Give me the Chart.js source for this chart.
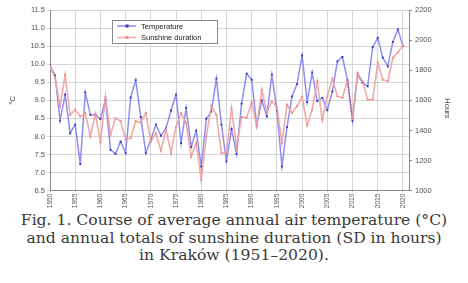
<!DOCTYPE html>
<html>
<head>
<meta charset="utf-8">
<script src="https://cdn.jsdelivr.net/npm/chart.js@4/dist/chart.umd.min.js"></script>
<style>
  body { margin: 0; background: #fff; width: 468px; height: 283px; overflow: hidden; }
  #wrap { position: relative; width: 468px; height: 210px; }
  #caption {
    font-family: "DejaVu Serif", serif;
    font-size: 15.6px;
    line-height: 17.5px;
    color: #3a3a3a;
    text-align: center;
    margin-top: 2px;
    white-space: nowrap;
  }
</style>
</head>
<body>
<div id="wrap"><canvas id="chart"></canvas></div>
<div id="caption">Fig. 1. Course of average annual air temperature (°C)<br>and annual totals of sunshine duration (SD in hours)<br>in Kraków (1951–2020).</div>
<script>
// lata 1950..2020 (punkty na osi X)
const firstYear = 1950;

// średnia roczna temperatura [°C]
const temperature = [
  9.97, 9.69, 8.44, 9.16, 8.09, 8.33, 7.24, 9.22, 8.60, 8.60,
  8.48, 9.02, 7.63, 7.52, 7.86, 7.54, 9.08, 9.56, 8.54, 7.54,
  7.91, 8.33, 8.02, 8.23, 8.72, 9.16, 7.82, 8.79, 7.71, 8.16,
  7.17, 8.49, 8.69, 9.60, 8.33, 7.31, 8.20, 7.52, 8.91, 9.74,
  9.57, 8.30, 9.00, 8.56, 9.71, 8.72, 7.17, 8.26, 9.11, 9.45,
  10.24, 8.95, 9.77, 8.98, 9.07, 8.73, 9.25, 10.08, 10.20, 9.56,
  8.44, 9.71, 9.48, 9.39, 10.47, 10.73, 10.18, 9.94, 10.62, 10.96,
  10.50
];

// roczne sumy usłonecznienia [h]
const sunshine = [
  1826, 1749, 1559, 1770, 1504, 1538, 1494, 1516, 1360, 1511,
  1322, 1622, 1372, 1482, 1461, 1338, 1350, 1461, 1453, 1516,
  1326, 1382, 1266, 1406, 1250, 1427, 1516, 1451, 1226, 1319,
  1072, 1360, 1564, 1504, 1250, 1250, 1547, 1288, 1490, 1485,
  1586, 1430, 1670, 1521, 1593, 1557, 1317, 1571, 1516, 1562,
  1624, 1434, 1538, 1727, 1470, 1626, 1744, 1626, 1617, 1732,
  1480, 1782, 1727, 1605, 1605, 1850, 1737, 1727, 1883, 1919,
  1965
];

const yearTicks = [1950, 1955, 1960, 1965, 1970, 1975, 1980, 1985, 1990, 1995, 2000, 2005, 2010, 2015, 2020];
const tempTicks = [6.5, 7.0, 7.5, 8.0, 8.5, 9.0, 9.5, 10.0, 10.5, 11.0, 11.5];
const hoursTicks = [1000, 1200, 1400, 1600, 1800, 2000, 2200];

const legendLabels = ['Temperature', 'Sunshine duration'];

const blue = 'rgba(115, 115, 238, 0.8)';
const pink = 'rgba(240, 160, 160, 0.9)';

const tempPoints = temperature.map((v, i) => ({ x: firstYear + i, y: v }));
const sunPoints = sunshine.map((v, i) => ({ x: firstYear + i, y: v }));

const tickFont = { family: 'Liberation Sans', size: 7.5 };

// własna legenda w obszarze wykresu + tytuł prawej osi
const boxLegend = {
  id: 'boxLegend',
  afterDraw(chart) {
    const c = chart.ctx;
    const x = 112, y = 20, w = 105, h = 23;
    c.save();
    c.fillStyle = '#fff';
    c.fillRect(x, y, w, h);
    c.strokeStyle = '#888';
    c.lineWidth = 1;
    c.strokeRect(x + 0.5, y + 0.5, w, h);
    const colors = [blue, pink];
    const dots = ['#3434b8', '#e88f8f'];
    legendLabels.forEach((txt, i) => {
      const ly = y + 6 + i * 11.5;
      c.strokeStyle = colors[i];
      c.lineWidth = 1.5;
      c.beginPath();
      c.moveTo(x + 5, ly);
      c.lineTo(x + 24, ly);
      c.stroke();
      c.fillStyle = dots[i];
      c.fillRect(x + 13.5, ly - 1.5, 3, 3);
      c.fillStyle = '#222';
      c.font = '7.5px "Liberation Sans"';
      c.textBaseline = 'middle';
      c.fillText(txt, x + 29, ly + 0.5);
    });

    // "Hours" obrócone o 90°
    const area = chart.chartArea;
    c.translate(447, (area.top + area.bottom) / 2 + 8);
    c.rotate(Math.PI / 2);
    c.fillStyle = '#444';
    c.font = '7.5px "Liberation Sans"';
    c.textAlign = 'center';
    c.textBaseline = 'middle';
    c.fillText('Hours', 0, 0);
    c.restore();
  }
};

new Chart(document.getElementById('chart'), {
  type: 'line',
  data: {
    datasets: [
      {
        label: legendLabels[1],
        data: sunPoints,
        yAxisID: 'yH',
        borderColor: pink,
        backgroundColor: '#e88f8f',
        borderWidth: 1.6,
        pointStyle: 'rect',
        pointRadius: 1.3,
        pointBorderWidth: 0,
        tension: 0,
        segment: {
          borderDash: ctx => ctx.p0.parsed.x === 2009 ? [1.5, 1.5] : undefined,
          borderColor: ctx => ctx.p0.parsed.x === 2009 ? 'rgba(190, 80, 120, 0.9)' : undefined
        }
      },
      {
        label: legendLabels[0],
        data: tempPoints,
        yAxisID: 'yT',
        borderColor: blue,
        backgroundColor: '#3434b8',
        borderWidth: 1.5,
        pointStyle: 'rect',
        pointRadius: 1.3,
        pointBorderWidth: 0,
        tension: 0
      }
    ]
  },
  options: {
    responsive: true,
    maintainAspectRatio: false,
    animation: false,
    layout: { padding: { top: 10, left: 0, right: 0, bottom: 0 } },
    plugins: { legend: { display: false }, tooltip: { enabled: false } },
    scales: {
      x: {
        type: 'linear',
        min: 1950,
        max: 2021.2,
        afterBuildTicks: s => { s.ticks = yearTicks.map(v => ({ value: v })); },
        afterFit: s => { s.height = 19.3; },
        grid: { color: '#d6d6d6', lineWidth: 1, tickLength: 2 },
        border: { color: '#888' },
        ticks: {
          minRotation: 90,
          maxRotation: 90,
          padding: 1,
          color: '#555',
          font: { family: 'Liberation Sans', size: 6.5 },
          callback: v => String(v)
        }
      },
      yT: {
        position: 'left',
        min: 6.5,
        max: 11.5,
        afterBuildTicks: s => { s.ticks = tempTicks.map(v => ({ value: v })); },
        afterFit: s => { s.width = 50; },
        grid: { color: '#d6d6d6', lineWidth: 1, tickLength: 3 },
        border: { color: '#888' },
        ticks: { color: '#555', font: tickFont, padding: 2, callback: v => v.toFixed(1) },
        title: { display: true, text: '°C', color: '#444', font: { family: 'Liberation Sans', size: 8 }, padding: { top: 8, bottom: 0 } }
      },
      yH: {
        position: 'right',
        min: 1000,
        max: 2200,
        afterBuildTicks: s => { s.ticks = hoursTicks.map(v => ({ value: v })); },
        afterFit: s => { s.width = 59; },
        grid: { drawOnChartArea: false, tickLength: 3, color: '#888' },
        border: { color: '#888' },
        ticks: { color: '#555', font: tickFont, padding: 3, callback: v => String(v) }
      }
    }
  },
  plugins: [boxLegend]
});
</script>
</body>
</html>
